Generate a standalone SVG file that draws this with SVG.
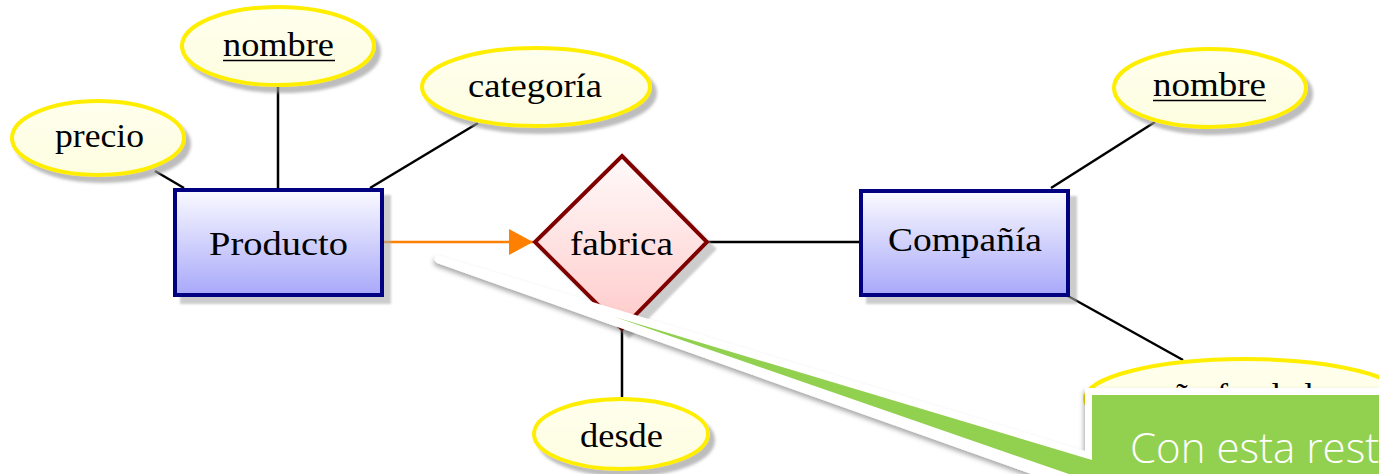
<svg xmlns="http://www.w3.org/2000/svg" width="1379" height="474" viewBox="0 0 1379 474">
<style>
.attr{fill:url(#gAttr);stroke:#ffee00;stroke-width:4;filter:url(#sh)}
.ent{fill:url(#gEnt);stroke:#000080;stroke-width:4;filter:url(#shR)}
.rel{fill:url(#gRel);stroke:#800000;stroke-width:4;stroke-linejoin:miter;filter:url(#shR)}
.t{font-family:"Liberation Serif","DejaVu Serif",serif;font-size:34px;fill:#000}
.u{stroke:#000;stroke-width:1.5}
.ln{stroke:#000;stroke-width:2.5;fill:none}
.callt{font-family:"Open Sans","Liberation Sans",sans-serif;font-weight:300;font-size:42px;fill:#fff}
</style>
<defs>
<linearGradient id="gAttr" x1="0" y1="0" x2="0" y2="1"><stop offset="0" stop-color="#ffffee"/><stop offset="1" stop-color="#fdfde0"/></linearGradient>
<linearGradient id="gEnt" x1="0" y1="0" x2="0" y2="1"><stop offset="0" stop-color="#fafaff"/><stop offset="1" stop-color="#a8a8fa"/></linearGradient>
<linearGradient id="gRel" x1="0" y1="0" x2="0" y2="1"><stop offset="0" stop-color="#fffafa"/><stop offset="1" stop-color="#ffcaca"/></linearGradient>
<filter id="sh" x="-20%" y="-20%" width="150%" height="160%"><feDropShadow dx="5" dy="6" stdDeviation="1.5" flood-color="#999" flood-opacity="0.65"/></filter>
<filter id="shR" x="-20%" y="-20%" width="150%" height="160%"><feDropShadow dx="7" dy="7" stdDeviation="1" flood-color="#aaa" flood-opacity="0.6"/></filter>
<filter id="shC" x="-10%" y="-10%" width="130%" height="140%"><feDropShadow dx="-1" dy="3" stdDeviation="2.5" flood-color="#000" flood-opacity="0.35"/></filter>
<marker id="arr" viewBox="0 0 24 26" refX="24" refY="13" markerWidth="24" markerHeight="26" markerUnits="userSpaceOnUse" orient="auto"><path d="M0,0 L24,13 L0,26 Z" fill="#ff8000"/></marker>
</defs>
<rect width="1379" height="474" fill="#fff"/>
<g id="connectors">
<line class="ln" x1="155" y1="171" x2="184" y2="188"/>
<line class="ln" x1="278" y1="86" x2="278" y2="188"/>
<line class="ln" x1="478" y1="123" x2="370" y2="188"/>
<line x1="384" y1="242" x2="533" y2="242" stroke="#ff8000" stroke-width="2.5" marker-end="url(#arr)"/>
<line class="ln" x1="708" y1="242" x2="859" y2="242"/>
<line class="ln" x1="622" y1="330" x2="622" y2="398"/>
<line class="ln" x1="1051" y1="188" x2="1155" y2="122"/>
<line class="ln" x1="1068" y1="296" x2="1183" y2="360"/>
</g>
<g id="attr-precio"><ellipse class="attr" cx="98" cy="138" rx="86" ry="37"/><text class="t" x="55" y="147" textLength="89" lengthAdjust="spacingAndGlyphs">precio</text></g>
<g id="attr-nombre-producto"><ellipse class="attr" cx="278" cy="46" rx="96" ry="39"/><text class="t" x="223" y="56" textLength="111" lengthAdjust="spacingAndGlyphs">nombre</text><line class="u" x1="223" y1="60.5" x2="335" y2="60.5"/></g>
<g id="attr-categoria"><ellipse class="attr" cx="536" cy="87" rx="114" ry="39"/><text class="t" x="468" y="97" textLength="134" lengthAdjust="spacingAndGlyphs">categoría</text></g>
<g id="ent-producto"><rect class="ent" x="175" y="190" width="207" height="105"/><text class="t" x="209" y="255" textLength="139" lengthAdjust="spacingAndGlyphs">Producto</text></g>
<g id="rel-fabrica"><path class="rel" d="M622,156 L707,242 L622,329 L535,242 Z"/><text class="t" x="570" y="255" textLength="103" lengthAdjust="spacingAndGlyphs">fabrica</text></g>
<g id="attr-desde"><ellipse class="attr" cx="621" cy="434" rx="87" ry="35"/><text class="t" x="580" y="447" textLength="83" lengthAdjust="spacingAndGlyphs">desde</text></g>
<g id="ent-compania"><rect class="ent" x="861" y="191" width="207" height="104"/><text class="t" x="888" y="251" textLength="154" lengthAdjust="spacingAndGlyphs">Compañía</text></g>
<g id="attr-nombre-compania"><ellipse class="attr" cx="1210" cy="88" rx="96" ry="39"/><text class="t" x="1153" y="96" textLength="113" lengthAdjust="spacingAndGlyphs">nombre</text><line class="u" x1="1153" y1="100.5" x2="1266" y2="100.5"/></g>
<g id="attr-anio"><ellipse class="attr" cx="1245" cy="399" rx="160" ry="40"/><text class="t" x="1158" y="407" textLength="172" lengthAdjust="spacingAndGlyphs">año fundado</text></g>
<g id="callout">
<path d="M437,255 L1085,451 L1085,388 L1400,388 L1400,500 L1085,500 L1085,493 L437,263 Q432,259 437,255 Z" fill="#fff" filter="url(#shC)"/>
<path d="M615,317 L1092,460 L1092,395 L1400,395 L1400,500 L1092,500 L1092,482 Z" fill="#92d050"/>
<text class="callt" x="1130" y="463">Con esta rest</text>
</g>
</svg>
